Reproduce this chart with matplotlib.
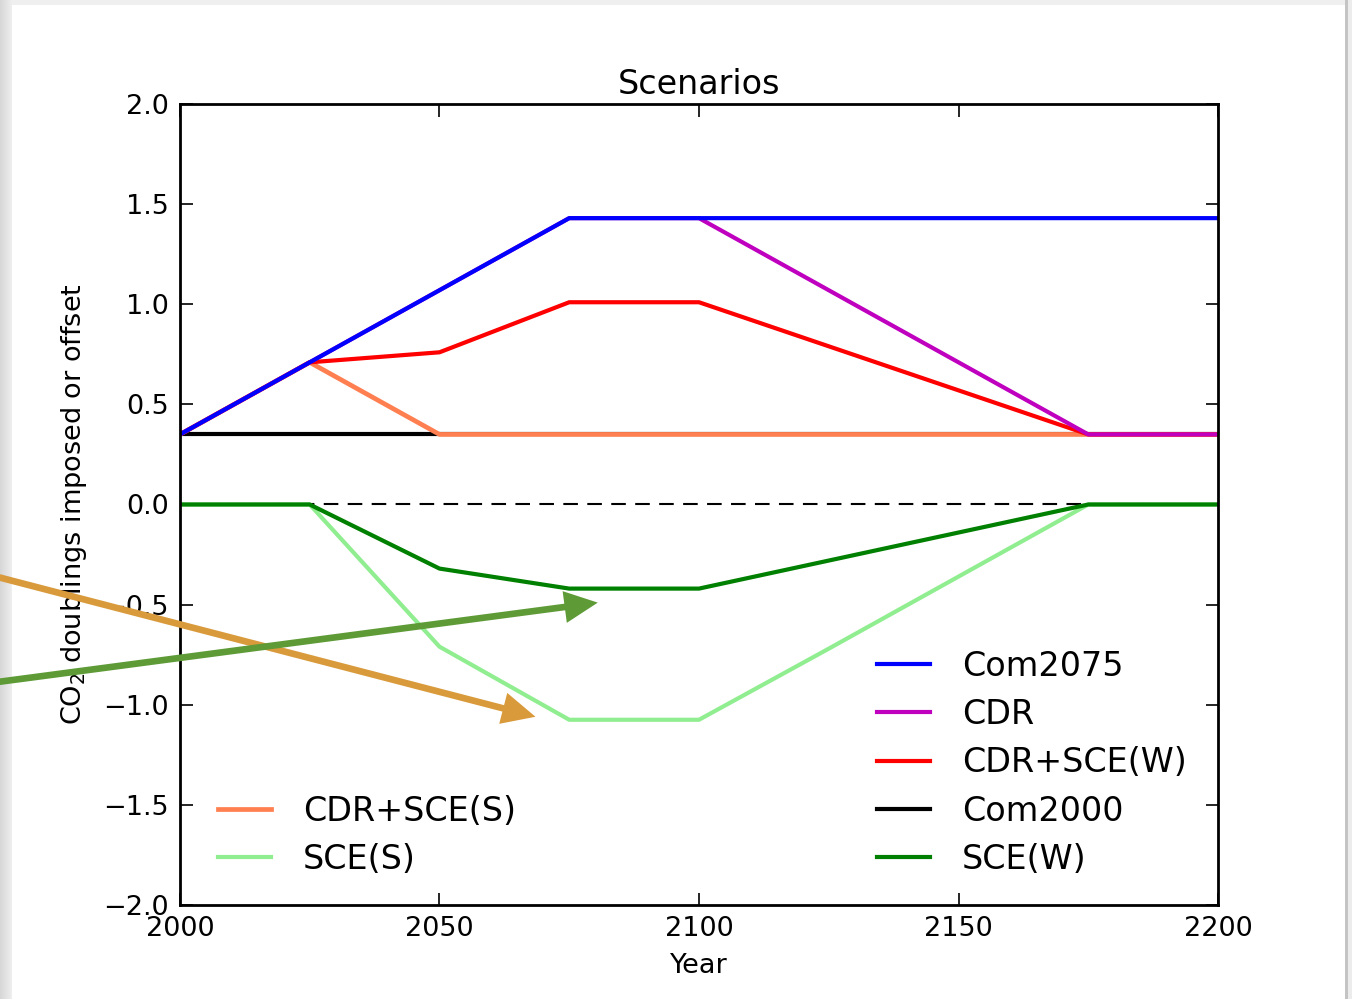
import numpy as np
import matplotlib
matplotlib.use('Agg')
import matplotlib.pyplot as plt
from matplotlib.patches import Rectangle

# scenario breakpoints (years) and CO2 doublings at each breakpoint
years = [2000, 2025, 2050, 2075, 2100, 2125, 2150, 2175, 2200]
com2075 = [0.35, 0.71, 1.07, 1.43, 1.43, 1.43, 1.43, 1.43, 1.43]
cdr = [0.35, 0.71, 1.07, 1.43, 1.43, 1.07, 0.71, 0.35, 0.35]
cdr_sce_w = [0.35, 0.71, 0.76, 1.01, 1.01, 0.79, 0.57, 0.35, 0.35]
com2000 = [0.35, 0.35, 0.35, 0.35, 0.35, 0.35, 0.35, 0.35, 0.35]
sce_w = [0.0, 0.0, -0.32, -0.42, -0.42, -0.28, -0.14, 0.0, 0.0]
cdr_sce_s = [0.35, 0.71, 0.35, 0.35, 0.35, 0.35, 0.35, 0.35, 0.35]
sce_s = [0.0, 0.0, -0.71, -1.075, -1.075, -0.72, -0.36, 0.0, 0.0]

# points the two call-out arrows aim at (year, doublings)
arrow_sce_s = (2068.5, -1.06)
arrow_sce_w = (2080.5, -0.49)

fig = plt.figure(figsize=(13.52, 9.99), dpi=100, facecolor='white')

# slide frame around the figure
band = np.linspace(0.84, 0.93, 12)[None, :].repeat(999, axis=0)
fig.figimage(band, xo=0, yo=0, cmap='gray', vmin=0, vmax=1, origin='upper', zorder=-5)
fig.add_artist(Rectangle((0, 994), 1352, 5, transform=None, color='#efefef', lw=0, zorder=-5))
fig.add_artist(Rectangle((1345, 0), 3, 999, transform=None, color='#c4c4c4', lw=0, zorder=-5))
fig.add_artist(Rectangle((1348, 0), 4, 999, transform=None, color='#ececec', lw=0, zorder=-5))

ax = fig.add_axes([0.1331, 0.0941, 0.7678, 0.8018])
ax.set_zorder(2)

ax.plot([2000, 2200], [0, 0], color='k', lw=1.5, ls=(0, (7, 4.5)))
l_com2000, = ax.plot(years, com2000, color='k', lw=3, label='Com2000')
l_cdr_s, = ax.plot(years, cdr_sce_s, color='coral', lw=3.4, label='CDR+SCE(S)')
l_cdr_w, = ax.plot(years, cdr_sce_w, color='r', lw=3, label='CDR+SCE(W)')
l_cdr, = ax.plot(years, cdr, color='m', lw=3, label='CDR')
l_com2075, = ax.plot(years, com2075, color='b', lw=3, label='Com2075')
l_sce_s, = ax.plot(years, sce_s, color='lightgreen', lw=3, label='SCE(S)')
l_sce_w, = ax.plot(years, sce_w, color='g', lw=3, label='SCE(W)')

ax.set_xlim(2000, 2200)
ax.set_ylim(-2.0, 2.0)
ax.set_xticks([2000, 2050, 2100, 2150, 2200])
ax.set_yticks(np.arange(-2.0, 2.01, 0.5))
ax.tick_params(direction='in', top=True, right=True, length=9, width=1.2,
               labelsize=19.5, pad=8)
for s in ax.spines.values():
    s.set_linewidth(2)

ax.set_title('Scenarios', fontsize=24, pad=7)
ax.set_xlabel('Year', fontsize=19.5, labelpad=8)
ax.set_ylabel(r'CO$_2$ doublings imposed or offset', fontsize=19.5, labelpad=10)

leg_kw = dict(frameon=False, fontsize=24, handlelength=1.6, handletextpad=0.95,
              labelspacing=0.46, borderpad=0, borderaxespad=0)
leg1 = ax.legend([l_com2075, l_cdr, l_cdr_w, l_com2000, l_sce_w],
                 ['Com2075', 'CDR', 'CDR+SCE(W)', 'Com2000', 'SCE(W)'],
                 loc='lower left', bbox_to_anchor=(0.6715, 0.036), **leg_kw)
ax.add_artist(leg1)
ax.legend([l_cdr_s, l_sce_s], ['CDR+SCE(S)', 'SCE(S)'],
          loc='lower left', bbox_to_anchor=(0.0366, 0.036), **leg_kw)

# call-out arrows coming in from the left of the slide
for tip, tail, col in [(arrow_sce_s, (-10, 424), '#d99a3b'),
                       (arrow_sce_w, (-10, 316), '#5e9b37')]:
    ax.annotate('', xy=tip, xycoords='data', xytext=tail,
                textcoords='figure pixels', annotation_clip=False,
                arrowprops=dict(arrowstyle='simple,head_length=1.2,head_width=1.15,tail_width=0.24',
                                color=col, lw=0, shrinkA=0, shrinkB=0,
                                mutation_scale=20))

fig.savefig('out.png', dpi=100, facecolor='white')
